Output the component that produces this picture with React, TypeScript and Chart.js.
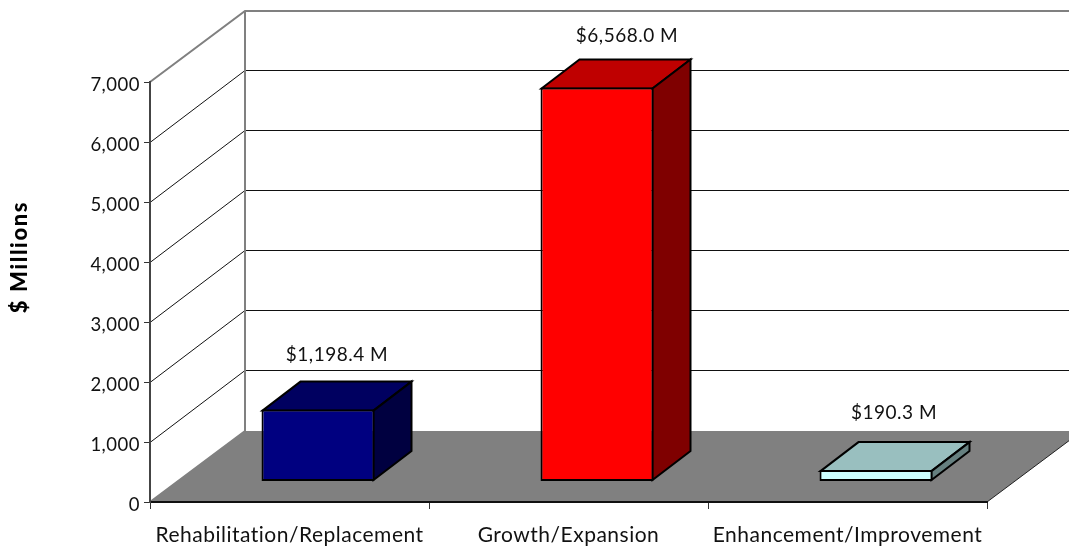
import React, { useEffect, useRef } from "react";
import { Chart, registerables } from "chart.js";

Chart.register(...registerables);

const categories = ["Rehabilitation/Replacement", "Growth/Expansion", "Enhancement/Improvement"];
const values = [1198.4, 6568.0, 190.3];
const valueLabels = ["$1,198.4 M", "$6,568.0 M", "$190.3 M"];
const frontColors = ["#000080", "#ff0000", "#ccffff"];
const topColors = ["#000060", "#bf0000", "#99bfbf"];
const sideColors = ["#000040", "#7f0000", "#668080"];
const yAxisTitle = "$ Millions";

const FONT = "Lato, 'Open Sans', sans-serif";
const WALL_DX = 95;
const WALL_DY = 71;
const BAR_DX = 38;
const BAR_DY = 29;
const BAR_SHIFT_X = 28.5;
const BAR_SHIFT_Y = 20.5;
const LABEL_GAP = [55, 52, 57.6];
const LABEL_NUDGE = [0, 11, -1];

const scenePlugin = {
  id: "scene3d",
  afterLayout(chart: any) {
    const s = chart.scales.y;
    if (!s.__patched) {
      const orig = s.drawLabels;
      s.drawLabels = function (area: any) {
        chart.ctx.save();
        chart.ctx.translate(0, 3);
        orig.call(this, area);
        chart.ctx.restore();
      };
      s.__patched = true;
    }
  },
  beforeDraw(chart: any) {
    const { ctx, chartArea, scales, width } = chart;
    const { left, right, bottom } = chartArea;
    const y = scales.y;
    (ctx as any).letterSpacing = "0.5px";
    ctx.save();
    ctx.fillStyle = "#ffffff";
    ctx.fillRect(0, 0, chart.width, chart.height);
    // floor
    ctx.fillStyle = "#808080";
    ctx.beginPath();
    ctx.moveTo(left, bottom);
    ctx.lineTo(left + WALL_DX, bottom - WALL_DY);
    ctx.lineTo(right + WALL_DX, bottom - WALL_DY);
    ctx.lineTo(right, bottom);
    ctx.closePath();
    ctx.fill();
    ctx.strokeStyle = "#222222";
    ctx.lineWidth = 1;
    ctx.beginPath();
    ctx.moveTo(right, bottom);
    ctx.lineTo(right + WALL_DX, bottom - WALL_DY);
    ctx.stroke();
    // gridlines
    y.ticks.forEach((t: any) => {
      if (t.value === 0 || t.value === y.max) return;
      const py = Math.round(y.getPixelForValue(t.value)) - 0.5;
      ctx.strokeStyle = "#111111";
      ctx.lineWidth = 1;
      ctx.beginPath();
      ctx.moveTo(left, py + 1);
      ctx.lineTo(left + WALL_DX, py - WALL_DY);
      ctx.lineTo(width, py - WALL_DY);
      ctx.stroke();
    });
    // wall outline
    const topY = y.getPixelForValue(y.max);
    ctx.strokeStyle = "#808080";
    ctx.lineWidth = 2;
    ctx.beginPath();
    ctx.moveTo(left, bottom);
    ctx.lineTo(left + WALL_DX, bottom - WALL_DY);
    ctx.moveTo(left, topY);
    ctx.lineTo(left + WALL_DX, topY - WALL_DY);
    ctx.lineTo(width, topY - WALL_DY);
    ctx.moveTo(left + WALL_DX, topY - WALL_DY);
    ctx.lineTo(left + WALL_DX, bottom - WALL_DY);
    ctx.stroke();
    // axis title
    ctx.translate(19.5, 257);
    ctx.rotate(-Math.PI / 2);
    ctx.fillStyle = "#000000";
    ctx.font = `900 22px ${FONT}`;
    (ctx as any).letterSpacing = "1.6px";
    ctx.textAlign = "center";
    ctx.textBaseline = "middle";
    ctx.fillText(yAxisTitle, 0, 0);
    ctx.restore();
  },
  beforeDatasetDraw(chart: any, args: any) {
    const { ctx } = chart;
    const meta = chart.getDatasetMeta(args.index);
    ctx.save();
    ctx.translate(BAR_SHIFT_X, -BAR_SHIFT_Y);
    ctx.lineJoin = "miter";
    ctx.lineWidth = 2;
    ctx.strokeStyle = "#000000";
    meta.data.forEach((bar: any, i: number) => {
      const p = bar.getProps(["x", "y", "base", "width"], true);
      const l = p.x - p.width / 2 + 1;
      const r = p.x + p.width / 2 - 1;
      const t = p.y + 1;
      const b = p.base - 1;
      ctx.fillStyle = topColors[i];
      ctx.beginPath();
      ctx.moveTo(l, t);
      ctx.lineTo(l + BAR_DX, t - BAR_DY);
      ctx.lineTo(r + BAR_DX, t - BAR_DY);
      ctx.lineTo(r, t);
      ctx.closePath();
      ctx.fill();
      ctx.stroke();
      ctx.fillStyle = sideColors[i];
      ctx.beginPath();
      ctx.moveTo(r, t);
      ctx.lineTo(r + BAR_DX, t - BAR_DY);
      ctx.lineTo(r + BAR_DX, b - BAR_DY);
      ctx.lineTo(r, b);
      ctx.closePath();
      ctx.fill();
      ctx.stroke();
    });
  },
  afterDatasetDraw(chart: any, args: any) {
    const { ctx } = chart;
    ctx.restore();
    const meta = chart.getDatasetMeta(args.index);
    ctx.save();
    ctx.fillStyle = "#111111";
    ctx.font = `19px ${FONT}`;
    ctx.textAlign = "center";
    ctx.textBaseline = "middle";
    meta.data.forEach((bar: any, i: number) => {
      const p = bar.getProps(["x", "y"], true);
      ctx.fillText(
        valueLabels[i],
        p.x + BAR_SHIFT_X + BAR_DX / 2 + LABEL_NUDGE[i],
        p.y - BAR_SHIFT_Y - LABEL_GAP[i]
      );
    });
    ctx.restore();
  },
};

export default function App() {
  const ref = useRef<HTMLCanvasElement>(null);
  useEffect(() => {
    const chart = new Chart(ref.current as HTMLCanvasElement, {
      type: "bar",
      data: {
        labels: categories,
        datasets: [
          {
            label: yAxisTitle,
            data: values,
            backgroundColor: frontColors,
            borderColor: "#000000",
            borderWidth: 2,
            borderSkipped: false,
            barPercentage: 0.405,
            categoryPercentage: 1,
            clip: false,
          } as any,
        ],
      },
      options: {
        responsive: false,
        animation: false,
        layout: { padding: { top: 82, right: 82, bottom: 0, left: 0 } },
        plugins: { legend: { display: false }, title: { display: false }, tooltip: { enabled: false } },
        scales: {
          x: {
            offset: true,
            afterFit(s: any) {
              s.height = 46;
            },
            grid: {
              display: true,
              offset: true,
              drawOnChartArea: false,
              drawTicks: true,
              tickLength: 7,
              tickColor: "#333333",
            },
            border: { display: true, color: "#111111", width: 2 },
            ticks: { color: "#111111", font: { family: FONT, size: 21 }, padding: 14, maxRotation: 0, autoSkip: false },
          },
          y: {
            min: 0,
            max: 7000,
            afterFit(s: any) {
              s.width = 150;
            },
            grid: { display: true, drawOnChartArea: false, drawTicks: true, tickLength: 6, tickColor: "#333333" },
            border: { display: true, color: "#444444", width: 2 },
            ticks: {
              stepSize: 1000,
              color: "#111111",
              font: { family: FONT, size: 18.5 },
              padding: 4,
              callback: (v: any) => Number(v).toLocaleString("en-US"),
            },
          },
        },
      },
      plugins: [scenePlugin],
    } as any);
    return () => chart.destroy();
  }, []);
  return (
    <div style={{ position: "fixed", left: 0, top: 0, width: 1069, height: 548, background: "#fff" }}>
      <canvas ref={ref} width={1069} height={548} style={{ display: "block" }} />
    </div>
  );
}
